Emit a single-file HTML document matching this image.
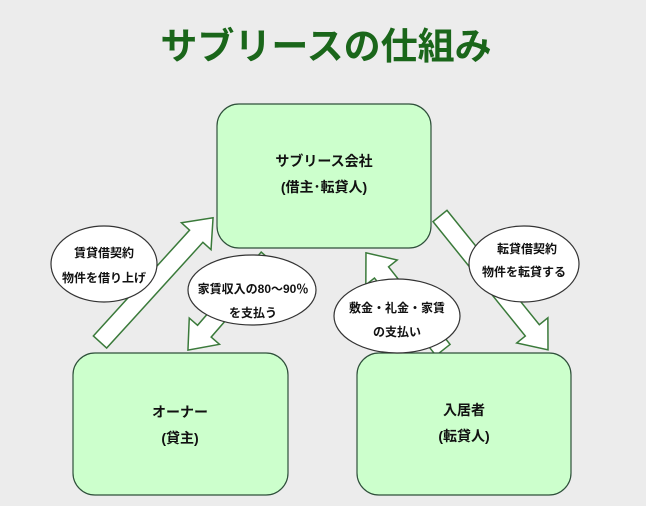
<!DOCTYPE html>
<html><head><meta charset="utf-8"><style>
html,body{margin:0;padding:0;background:#ececec;}
svg text{font-family:"Liberation Sans","Noto Sans CJK JP",sans-serif;}
</style></head><body>
<svg width="646" height="501" viewBox="0 0 646 501" xmlns="http://www.w3.org/2000/svg">
<rect width="646" height="501" fill="#ececec"/>
<text x="326" y="59" text-anchor="middle" font-size="37" font-weight="bold" fill="#1a661a">サブリースの仕組み</text>
<g fill="#fff" stroke="#3a7a3a" stroke-width="1.5">
<g transform="translate(100,342) rotate(-47.7)"><polygon points="0,-9 143,-9 143,-20 168,0 143,20 143,9 0,9"/></g>
<g transform="translate(268,258) rotate(131)"><polygon points="0,-9 97,-9 97,-20 122,0 97,20 97,9 0,9"/></g>
<g transform="translate(440,216) rotate(51.1)"><polygon points="0,-9 147,-9 147,-20 172,0 147,20 147,9 0,9"/></g>
<g transform="translate(443,350) rotate(-128.4)"><polygon points="0,-9 99,-9 99,-20 124,0 99,20 99,9 0,9"/></g>
</g>
<g fill="#ccffcc" stroke="#2e4f3a" stroke-width="1.2">
<rect x="217" y="104" width="214" height="144" rx="22"/>
<rect x="73" y="353" width="215" height="142" rx="22"/>
<rect x="357" y="353" width="214" height="142" rx="22"/>
</g>
<g font-size="14" font-weight="bold" fill="#111" text-anchor="middle">
<text x="324" y="166">サブリース会社</text>
<text x="324" y="192">(借主･転貸人)</text>
<text x="180" y="417">オーナー</text>
<text x="180" y="443">(貸主)</text>
<text x="464" y="415">入居者</text>
<text x="464" y="441">(転貸人)</text>
</g>
<g fill="#fff" stroke="#333" stroke-width="1.2">
<ellipse cx="104" cy="264" rx="53" ry="38"/>
<ellipse cx="252" cy="290" rx="64" ry="35"/>
<ellipse cx="524" cy="264" rx="55" ry="38"/>
<ellipse cx="397" cy="316" rx="63" ry="37"/>
</g>
<g font-size="12" font-weight="bold" fill="#111" text-anchor="middle">
<text x="104" y="257">賃貸借契約</text>
<text x="104" y="282">物件を借り上げ</text>
<text x="253" y="293">家賃収入の80～90％</text>
<text x="253" y="317">を支払う</text>
<text x="527" y="253">転貸借契約</text>
<text x="524" y="276">物件を転貸する</text>
<text x="397" y="312">敷金・礼金・家賃</text>
<text x="397" y="336">の支払い</text>
</g>
</svg>
</body></html>
